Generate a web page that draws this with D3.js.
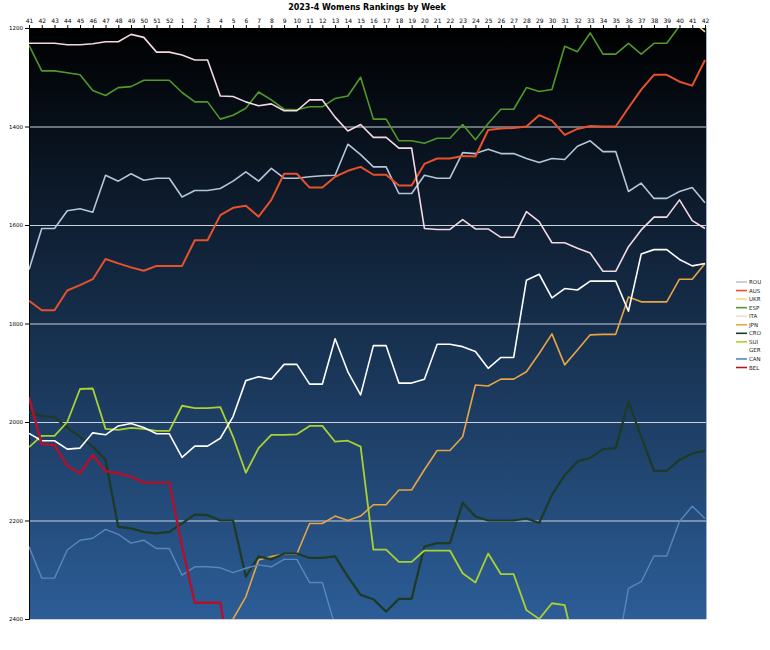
<!DOCTYPE html>
<html>
<head>
<meta charset="utf-8">
<style>
  body { margin: 0; background: #fff; }
  svg text { font-family: "DejaVu Sans", Verdana, sans-serif; }
</style>
<script src="https://d3js.org/d3.v7.min.js"></script>
</head>
<body>
<svg width="770" height="650"></svg>
<script>
// week labels, Oct 2023 -> Oct 2024
var weeks = ["41","42","43","44","45","46","47","48","49","50","51","52",
  "1","2","3","4","5","6","7","8","9","10","11","12","13","14","15","16","17","18","19","20",
  "21","22","23","24","25","26","27","28","29","30","31","32","33","34","35","36","37","38","39","40","41","42"];

var yTicks = [1200, 1400, 1600, 1800, 2000, 2200, 2400];

var countries = ["ROU","AUS","UKR","ESP","ITA","JPN","CRO","SUI","GER","CAN","BEL"];

var ROU = [1691,1607,1607,1571,1567,1574,1499,1511,1496,1509,1505,1505,
  1543,1530,1530,1526,1511,1492,1511,1485,1505,1505,1502,1500,1499,1436,1457,1482,1482,1536,1536,1499,
  1505,1505,1453,1455,1446,1455,1455,1465,1473,1465,1467,1440,1429,1451,1451,1532,1515,1546,1546,1532,1524,1555];
var AUS = [1754,1773,1773,1733,1722,1710,1669,1678,1686,1693,1683,1683,
  1683,1631,1631,1580,1565,1561,1583,1549,1496,1496,1524,1524,1502,1490,1482,1498,1498,1520,1520,1476,
  1465,1465,1460,1461,1407,1404,1403,1400,1377,1388,1417,1405,1399,1400,1400,1362,1325,1295,1295,1309,1317,1265];
var UKR = [1140,1138,1142,1145,1150,1148,1152,1155,1150,1148,1152,1150,
  1155,1158,1160,1162,1160,1158,1155,1160,1165,1162,1160,1165,1168,1170,1165,1168,1170,1172,1170,1168,
  1172,1175,1170,1172,1175,1178,1175,1172,1170,1175,1178,1180,1175,1172,1175,1178,1180,1182,1178,1180,1185,1208];
var ESP = [1235,1287,1287,1291,1295,1327,1337,1321,1319,1306,1306,1306,
  1331,1350,1350,1385,1377,1363,1330,1346,1365,1366,1360,1360,1343,1338,1300,1385,1385,1429,1429,1434,
  1424,1424,1396,1427,1394,1365,1365,1321,1329,1325,1237,1248,1210,1253,1253,1231,1253,1231,1231,1196,1180,1185];
var ITA = [1231,1231,1231,1234,1234,1232,1228,1228,1213,1219,1249,1249,
  1255,1265,1265,1338,1339,1350,1358,1354,1368,1368,1346,1346,1381,1409,1396,1422,1422,1444,1444,1607,
  1609,1609,1589,1608,1608,1625,1625,1573,1593,1636,1636,1647,1657,1694,1694,1644,1610,1584,1584,1549,1591,1607];
var JPN = [2470,2468,2466,2466,2462,2460,2458,2455,2455,2452,2450,2450,
  2446,2445,2443,2440,2400,2355,2280,2273,2268,2268,2206,2206,2191,2200,2191,2168,2168,2138,2138,2097,
  2058,2058,2030,1925,1927,1913,1913,1898,1861,1821,1884,1854,1823,1822,1822,1746,1756,1756,1756,1710,1710,1678];
var CRO = [1980,1988,1990,2012,2030,2050,2077,2213,2216,2223,2226,2223,
  2206,2188,2189,2200,2200,2314,2273,2279,2267,2267,2276,2276,2273,2314,2351,2360,2385,2359,2359,2253,
  2246,2246,2164,2192,2200,2200,2200,2196,2205,2148,2108,2080,2073,2055,2053,1959,2030,2099,2099,2077,2064,2058];
var SUI = [2051,2028,2028,2000,1933,1932,2014,2016,2012,2014,2018,2018,
  1967,1972,1972,1970,2030,2103,2053,2026,2026,2025,2008,2008,2040,2038,2050,2259,2259,2284,2284,2261,
  2261,2261,2307,2326,2267,2309,2309,2382,2400,2368,2372,2480,2485,2488,2490,2492,2495,2495,2498,2500,2502,2505];
var GER = [2023,2038,2038,2055,2053,2022,2026,2008,2003,2011,2024,2024,
  2072,2049,2049,2033,1989,1916,1908,1913,1883,1883,1923,1923,1831,1898,1945,1845,1845,1921,1921,1913,
  1842,1842,1847,1857,1891,1869,1869,1712,1700,1748,1729,1732,1714,1714,1714,1775,1659,1650,1650,1670,1683,1678];
var CAN = [2253,2317,2317,2260,2240,2236,2218,2228,2246,2240,2257,2257,
  2311,2294,2294,2296,2306,2297,2290,2294,2279,2279,2326,2326,2415,2440,2445,2450,2450,2455,2455,2460,
  2460,2462,2465,2465,2468,2470,2470,2472,2472,2475,2475,2478,2478,2480,2480,2338,2324,2272,2272,2202,2171,2196];
var BEL = [1950,2045,2047,2089,2104,2067,2100,2104,2111,2123,2123,2123,
  2253,2367,2367,2367,2520,2540,2545,2550,2555,2560,2560,2565,2570,2570,2575,2580,2580,2585,2590,2590,
  2595,2600,2600,2605,2610,2610,2615,2620,2620,2625,2630,2630,2635,2640,2640,2645,2650,2650,2655,2660,2660,2665];

var colors = {
  ROU: "#b4c6da", AUS: "#e8512b", UKR: "#f6dc7a", ESP: "#4f9a2a", ITA: "#f4d9e1",
  JPN: "#e8a445", CRO: "#1d3a25", SUI: "#a9d132", GER: "#ffffff", CAN: "#5787bf", BEL: "#b3102e"
};
var widths = { ROU: 1.6, AUS: 2, UKR: 1.6, ESP: 1.6, ITA: 1.6, JPN: 1.6, CRO: 2.2, SUI: 1.8, GER: 1.6, CAN: 1.4, BEL: 2.4 };

var series = {ROU: ROU, AUS: AUS, UKR: UKR, ESP: ESP, ITA: ITA, JPN: JPN, CRO: CRO, SUI: SUI, GER: GER, CAN: CAN, BEL: BEL};

var svg = d3.select("svg");
var plotL = 29, plotR = 705, plotT = 28, plotB = 619;

var x = d3.scaleLinear().domain([0, weeks.length - 1]).range([plotL, plotR]);
var y = d3.scaleLinear().domain([1200, 2400]).range([plotT, plotB]);

// background gradient
var defs = svg.append("defs");
var grad = defs.append("linearGradient").attr("id", "bg")
  .attr("x1", 0).attr("y1", 0).attr("x2", 0).attr("y2", 1);
grad.append("stop").attr("offset", "0%").attr("stop-color", "#000000");
grad.append("stop").attr("offset", "100%").attr("stop-color", "#2c5d97");

defs.append("clipPath").attr("id", "clip")
  .append("rect").attr("x", plotL).attr("y", plotT).attr("width", plotR - plotL + 1).attr("height", plotB - plotT);

svg.append("rect")
  .attr("x", plotL).attr("y", plotT)
  .attr("width", plotR - plotL + 2).attr("height", plotB - plotT)
  .attr("fill", "url(#bg)");

// gridlines
svg.append("g").selectAll("line")
  .data(yTicks.slice(1))
  .enter().append("line")
  .attr("x1", plotL).attr("x2", plotR + 1)
  .attr("y1", function(d) { return y(d) + 0.5; })
  .attr("y2", function(d) { return y(d) + 0.5; })
  .attr("stroke", "#c9d2dc").attr("stroke-width", 1);

svg.append("line")
  .attr("x1", plotR + 1.5).attr("x2", plotR + 1.5).attr("y1", plotT).attr("y2", plotB)
  .attr("stroke", "#9fb3c8");

// axes
var xAxis = svg.append("g")
  .attr("transform", "translate(0," + plotT + ")")
  .call(d3.axisTop(x).tickValues(d3.range(weeks.length)).tickSize(3).tickPadding(2)
    .tickFormat(function(i) { return weeks[i]; }));
xAxis.selectAll("text").attr("font-size", "6px").attr("fill", "#000");
xAxis.select(".domain").attr("stroke", "#000");

var yAxis = svg.append("g")
  .attr("transform", "translate(" + plotL + ",0)")
  .call(d3.axisLeft(y).tickValues(yTicks).tickSize(4).tickPadding(2).tickFormat(d3.format("d")));
yAxis.selectAll("text").attr("font-size", "5.5px").attr("fill", "#000");
yAxis.select(".domain").attr("stroke", "#000");

// lines
var line = d3.line()
  .x(function(d, i) { return x(i); })
  .y(function(d) { return y(d); });

var lines = svg.append("g").attr("clip-path", "url(#clip)");
countries.forEach(function(c) {
  lines.append("path")
    .datum(series[c])
    .attr("fill", "none")
    .attr("stroke", colors[c])
    .attr("stroke-width", widths[c])
    .attr("stroke-linejoin", "round")
    .attr("d", line);
});

// title
svg.append("text")
  .attr("x", 367).attr("y", 10)
  .attr("text-anchor", "middle")
  .attr("font-size", "8px")
  .attr("font-weight", "bold")
  .text("2023-4 Womens Rankings by Week");

// legend
var legend = svg.append("g").attr("transform", "translate(736,282)");
var item = legend.selectAll("g")
  .data(countries)
  .enter().append("g")
  .attr("transform", function(d, i) { return "translate(0," + (i * 8.55) + ")"; });
item.append("line")
  .attr("x1", 0).attr("x2", 11)
  .attr("stroke", function(d) { return colors[d]; })
  .attr("stroke-width", 1.6);
item.append("text")
  .attr("x", 13).attr("y", 2)
  .attr("font-size", "5.5px")
  .attr("fill", "#222")
  .text(function(d) { return d; });
</script>
</body>
</html>
